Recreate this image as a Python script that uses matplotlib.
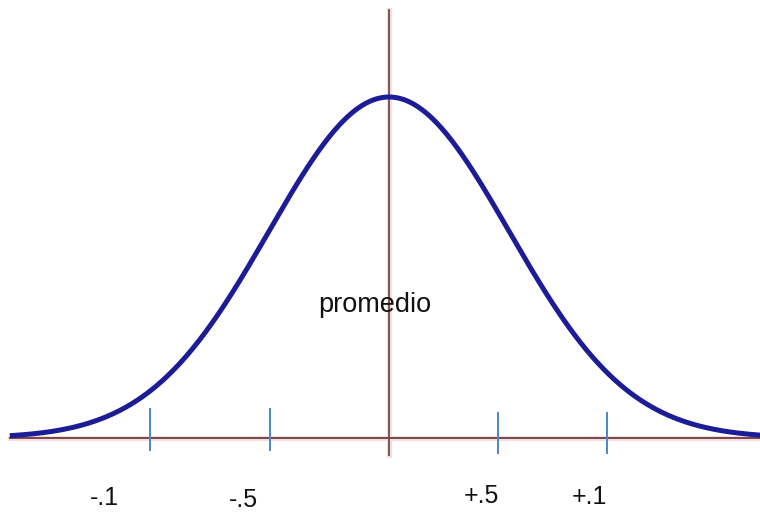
import numpy as np
import matplotlib.pyplot as plt

# curva normal: media y desviacion (en unidades del eje)
mean = 0.0
sigma = 1.0
x_range = (-3.16, 3.10)

# marcas sobre el eje y sus etiquetas
tick_pos = [-1.99, -0.99, 0.91, 1.82]
tick_labels = ['-.1', '-.5', '+.5', '+.1']
label_y = [-0.197, -0.203, -0.19, -0.195]
label_x = [-2.37, -1.21, 0.77, 1.67]
tick_low = [-0.035, -0.035, -0.044, -0.044]
tick_high = [0.085, 0.085, 0.073, 0.073]

xs = np.linspace(x_range[0], x_range[1], 600)
ys = np.exp(-0.5 * ((xs - mean) / sigma) ** 2)

fig = plt.figure(figsize=(7.6, 5.13), dpi=100)
ax = fig.add_axes([0, 0, 1, 1])
ax.set_xlim(-389 / 120, 371 / 120)
ax.set_ylim(-75 / 341, 438 / 341)
ax.axis('off')

axis_col = '#754848'
ax.plot([x_range[0], x_range[1]], [0, 0], color='#f7dcdc', lw=3.5, zorder=1)
ax.plot([x_range[0], x_range[1]], [0, 0], color=axis_col, lw=1.4, zorder=2)
ax.plot([0, 0], [-0.05, 1.255], color='#f7dcdc', lw=3.5, zorder=1)
ax.plot([0, 0], [-0.05, 1.255], color=axis_col, lw=1.3, zorder=2)

for p, lo, hi in zip(tick_pos, tick_low, tick_high):
    ax.plot([p, p], [lo, hi], color='#4a86c8', lw=1.4, zorder=3)

ax.plot(xs, ys, color='#1c1c96', lw=3.6, zorder=4, solid_capstyle='butt')

for lx, ly, t in zip(label_x, label_y, tick_labels):
    ax.text(lx, ly, t, ha='center', va='baseline', fontsize=18,
            family='Liberation Sans', color='#111111')

ax.text(-0.12, 0.37, 'promedio', ha='center', va='baseline', fontsize=19.5,
        family='Liberation Sans', color='#111111', zorder=5)

fig.savefig('out.png', dpi=100)
